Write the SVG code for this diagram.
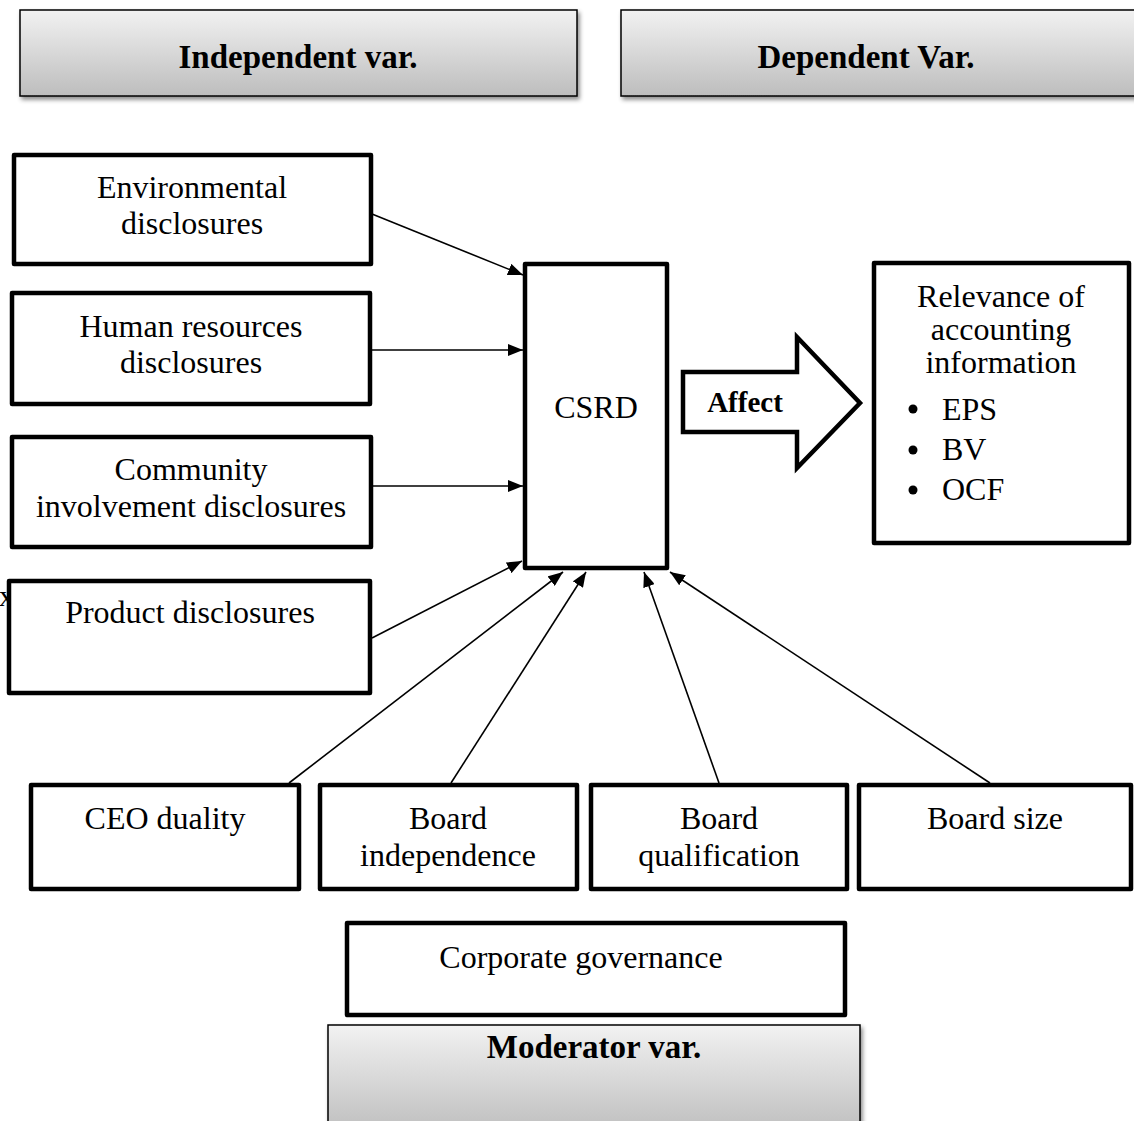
<svg xmlns="http://www.w3.org/2000/svg" width="1134" height="1121" viewBox="0 0 1134 1121">
<defs>
<linearGradient id="hdr" x1="0" y1="0" x2="0" y2="1">
<stop offset="0" stop-color="#f2f2f2"/>
<stop offset="1" stop-color="#bdbdbd"/>
</linearGradient>
<filter id="sh" x="-5%" y="-20%" width="115%" height="150%">
<feDropShadow dx="2" dy="3" stdDeviation="2" flood-color="#000" flood-opacity="0.45"/>
</filter>
<marker id="ah" markerUnits="userSpaceOnUse" markerWidth="15" markerHeight="12" refX="15" refY="6" orient="auto">
<path d="M0,0 L15,6 L0,12 z" fill="#000"/>
</marker>
</defs>
<style>
text{font-family:"Liberation Serif","Times New Roman",serif;fill:#000}
.t{font-size:32px;text-anchor:middle}
.h{font-size:33px;font-weight:bold;text-anchor:middle}
.hb{fill:url(#hdr);stroke:#000;stroke-width:1.5;filter:url(#sh)}
.bx{fill:#fff;stroke:#000;stroke-width:4.5;stroke-linejoin:round}
.cn{stroke:#000;stroke-width:1.6;fill:none;marker-end:url(#ah)}
</style>
<rect width="1134" height="1121" fill="#fff"/>
<text x="-1" y="606" style="font-size:30px">x</text>

<g id="hdr-independent">
<rect class="hb" x="20" y="10" width="557" height="86"/>
<text class="h" x="298" y="68">Independent var.</text>
</g>
<g id="hdr-dependent">
<rect class="hb" x="621" y="10" width="530" height="86"/>
<text class="h" x="866" y="68">Dependent Var.</text>
</g>

<g id="connectors">
<line class="cn" x1="372" y1="214" x2="523" y2="275"/>
<line class="cn" x1="372" y1="350" x2="523" y2="350"/>
<line class="cn" x1="372" y1="486" x2="523" y2="486"/>
<line class="cn" x1="372" y1="638" x2="522" y2="561"/>
<line class="cn" x1="289" y1="783" x2="563" y2="572"/>
<line class="cn" x1="451" y1="783" x2="586" y2="572"/>
<line class="cn" x1="719" y1="783" x2="644" y2="572"/>
<line class="cn" x1="990" y1="783" x2="670" y2="572"/>
</g>

<g id="env">
<rect class="bx" x="14" y="155" width="357" height="109"/>
<text class="t" x="192" y="198">Environmental</text>
<text class="t" x="192" y="234">disclosures</text>
</g>
<g id="hr">
<rect class="bx" x="12" y="293" width="358" height="111"/>
<text class="t" x="191" y="337">Human resources</text>
<text class="t" x="191" y="373">disclosures</text>
</g>
<g id="comm">
<rect class="bx" x="12" y="437" width="359" height="110"/>
<text class="t" x="191" y="480">Community</text>
<text class="t" x="191" y="517">involvement disclosures</text>
</g>
<g id="prod">
<rect class="bx" x="9" y="581" width="361" height="112"/>
<text class="t" x="190" y="623">Product disclosures</text>
</g>

<g id="csrd">
<rect class="bx" x="525" y="264" width="142" height="304"/>
<text class="t" x="596" y="418">CSRD</text>
</g>

<g id="affect">
<path d="M683,372 L797,372 L797,337 L860,403 L797,468 L797,432 L683,432 Z" fill="#fff" stroke="#000" stroke-width="4.5" stroke-linejoin="miter"/>
<text x="745" y="412" style="font-size:29px;font-weight:bold;text-anchor:middle">Affect</text>
</g>

<g id="relevance">
<rect class="bx" x="874" y="263" width="255" height="280"/>
<text class="t" x="1001" y="307">Relevance of</text>
<text class="t" x="1001" y="340">accounting</text>
<text class="t" x="1001" y="373">information</text>
<circle cx="913" cy="409" r="4.5" fill="#000"/>
<circle cx="913" cy="450" r="4.5" fill="#000"/>
<circle cx="913" cy="490" r="4.5" fill="#000"/>
<text x="942" y="420" style="font-size:32px">EPS</text>
<text x="942" y="460" style="font-size:32px">BV</text>
<text x="942" y="500" style="font-size:32px">OCF</text>
</g>

<g id="ceo">
<rect class="bx" x="31" y="785" width="268" height="104"/>
<text class="t" x="165" y="829">CEO duality</text>
</g>
<g id="bindep">
<rect class="bx" x="320" y="785" width="257" height="104"/>
<text class="t" x="448" y="829">Board</text>
<text class="t" x="448" y="866">independence</text>
</g>
<g id="bqual">
<rect class="bx" x="591" y="785" width="256" height="104"/>
<text class="t" x="719" y="829">Board</text>
<text class="t" x="719" y="866">qualification</text>
</g>
<g id="bsize">
<rect class="bx" x="859" y="785" width="272" height="104"/>
<text class="t" x="995" y="829">Board size</text>
</g>

<g id="corpgov">
<rect class="bx" x="347" y="923" width="498" height="92"/>
<text class="t" x="581" y="968">Corporate governance</text>
</g>

<g id="hdr-moderator">
<rect class="hb" x="328" y="1025" width="532" height="110"/>
<text class="h" x="594" y="1058">Moderator var.</text>
</g>
</svg>
